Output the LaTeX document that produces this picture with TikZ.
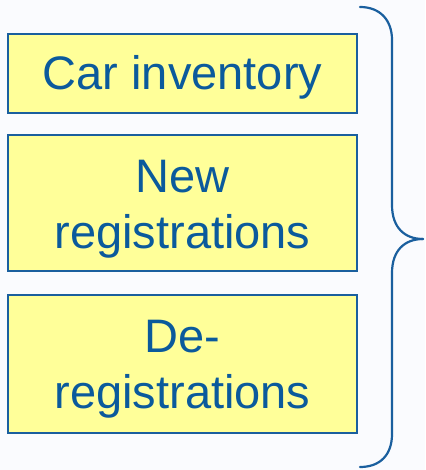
\documentclass[tikz,border=0pt]{standalone}
\usepackage{fontspec}
\setmainfont{Liberation Sans}
\definecolor{pagebg}{HTML}{FAFBFE}
\definecolor{boxfill}{HTML}{FFFF99}
\definecolor{boxline}{HTML}{1A5F9E}
\definecolor{labelblue}{HTML}{0B5A9C}
\tikzset{
  itembox/.style={draw=boxline, line width=2.2pt, fill=boxfill, rectangle, inner sep=0pt},
  itemtext/.style={text=labelblue, anchor=base, align=center, inner sep=0pt,
    font=\fontsize{47}{56}\selectfont},
  bracket/.style={draw=boxline, line width=2.2pt, line cap=round, line join=round}
}
\begin{document}
\begin{tikzpicture}[x=1pt, y=-1pt]
  % canvas
  \fill[pagebg] (0,0) rectangle (425,470);
  \useasboundingbox (0,0) rectangle (425,470);

  % the three boxes
  \node[itembox, minimum width=349pt, minimum height=79pt] (inv) at (182.5,73.5) {};
  \node[itembox, minimum width=349pt, minimum height=136pt] (newreg) at (182.5,203) {};
  \node[itembox, minimum width=349pt, minimum height=138pt] (dereg) at (182.5,364) {};

  % box labels, placed on their last baselines
  \node[itemtext] (invtxt) at (182.5,90) {Car inventory};
  \node[itemtext] (newtxt) at (182.5,248) {New\\registrations};
  \node[itemtext] (detxt) at (182.5,408) {De-\\registrations};

  % curly brace grouping the boxes
  \coordinate (btop) at (360,7);
  \coordinate (btip) at (423,239);
  \coordinate (bbot) at (360,467);
  \draw[bracket] (btop) .. controls (380,7) and (392,20) .. (392,40)
    -- (392,205) .. controls (392,228) and (405,239) .. (btip);
  \draw[bracket] (btip) .. controls (405,239) and (392,250) .. (392,273)
    -- (392,434) .. controls (392,455) and (380,467) .. (bbot);
\end{tikzpicture}
\end{document}
